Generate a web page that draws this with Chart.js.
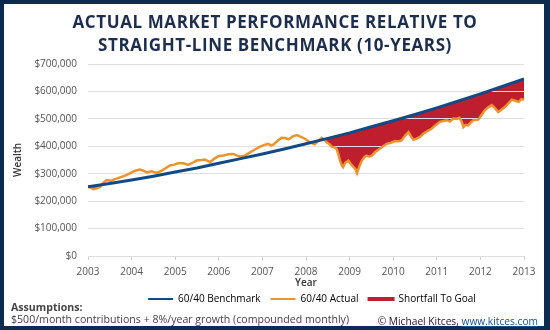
<!DOCTYPE html>
<html>
<head>
<meta charset="utf-8">
<script src="https://cdn.jsdelivr.net/npm/chart.js@4.4.1/dist/chart.umd.min.js"></script>
<style>
  html, body { margin: 0; padding: 0; }
  body { width: 550px; height: 330px; background: #0c2b4e; overflow: hidden; position: relative; }
  #frame { position: absolute; left: 4px; top: 4px; width: 540px; height: 322px; background: #fff; }
  #chart { position: absolute; left: 0; top: 0; }
  #title { position: absolute; left: 0; top: 6px; width: 542px; text-align: center; letter-spacing: 0.6px;
           font: 700 17px/23px "Open Sans", sans-serif; color: #1d2d4e; }
  #notes { position: absolute; left: 7px; top: 297px; font: 10.6px/12px "Open Sans", sans-serif; color: #444; }
  #notes b { font-weight: 700; }
  #credit { position: absolute; right: 6px; top: 311px; font: 10.2px/12px "Open Sans", sans-serif; color: #222; }
  #credit a { color: #1b4f8a; text-decoration: underline; }
</style>
</head>
<body>
<div id="frame">
  <canvas id="chart" width="540" height="322"></canvas>
  <div id="title">ACTUAL MARKET PERFORMANCE RELATIVE TO<br>STRAIGHT-LINE BENCHMARK (10-YEARS)</div>
  <div id="notes"><b>Assumptions:</b><br>$500/month contributions + 8%/year growth (compounded monthly)</div>
  <div id="credit">© Michael Kitces, <a>www.kitces.com</a></div>
</div>
<script>
// Straight-line benchmark: $500/month contributions + 8%/year growth
const benchmarkYears = [2003.0, 2003.5, 2004.0, 2004.5, 2005.0, 2005.5, 2006.0, 2006.5, 2007.0, 2007.5,
  2008.0, 2008.5, 2009.0, 2009.5, 2010.0, 2010.5, 2011.0, 2011.5, 2012.0, 2012.5, 2013.0];
const benchmarkWealth = [252000, 264000, 277000, 291000, 306000, 321000, 338000, 355000, 372000, 390000,
  409000, 429000, 449000, 471000, 493000, 516000, 540000, 565000, 591000, 618000, 646000];

// Actual 60/40 portfolio value
const actualYears = [2003.00, 2003.05, 2003.12, 2003.20, 2003.28, 2003.36, 2003.43, 2003.52, 2003.62, 2003.72,
  2003.85, 2003.96, 2004.08, 2004.19, 2004.27, 2004.35, 2004.46, 2004.58, 2004.69, 2004.78,
  2004.88, 2004.98, 2005.07, 2005.19, 2005.30, 2005.40, 2005.49, 2005.60, 2005.68, 2005.80,
  2005.90, 2005.99, 2006.10, 2006.22, 2006.33, 2006.42, 2006.49, 2006.60, 2006.68, 2006.75,
  2006.85, 2006.95, 2007.05, 2007.13, 2007.20, 2007.25, 2007.35, 2007.44, 2007.52, 2007.60,
  2007.70, 2007.79, 2007.86, 2007.92, 2008.01, 2008.10, 2008.20, 2008.28, 2008.36, 2008.42,
  2008.47, 2008.54, 2008.59, 2008.66, 2008.70, 2008.74, 2008.78, 2008.82, 2008.85, 2008.90,
  2008.97, 2009.03, 2009.08, 2009.13, 2009.17, 2009.22, 2009.28, 2009.34, 2009.39, 2009.45,
  2009.51, 2009.58, 2009.66, 2009.75, 2009.85, 2009.95, 2010.04, 2010.12, 2010.19, 2010.28,
  2010.35, 2010.40, 2010.46, 2010.54, 2010.62, 2010.69, 2010.78, 2010.88, 2010.98, 2011.07,
  2011.15, 2011.23, 2011.30, 2011.38, 2011.45, 2011.52, 2011.57, 2011.61, 2011.66, 2011.72,
  2011.78, 2011.84, 2011.95, 2012.03, 2012.10, 2012.18, 2012.26, 2012.33, 2012.41, 2012.48,
  2012.56, 2012.64, 2012.72, 2012.80, 2012.88, 2012.94, 2013.00];
const actualWealth = [255000, 250000, 244000, 247000, 252000, 268000, 277000, 274000, 280000, 286000,
  293000, 301000, 311000, 315000, 311000, 305000, 309000, 303000, 311000, 320000,
  330000, 333000, 338000, 338000, 332000, 340000, 348000, 350000, 352000, 342000,
  355000, 364000, 366000, 371000, 372000, 366000, 363000, 366000, 374000, 381000,
  390000, 399000, 405000, 409000, 403000, 406000, 420000, 431000, 430000, 425000,
  436000, 441000, 436000, 432000, 424000, 413000, 407000, 420000, 431000, 425000,
  415000, 408000, 399000, 395000, 391000, 372000, 348000, 330000, 324000, 340000,
  348000, 335000, 326000, 318000, 302000, 325000, 348000, 360000, 366000, 362000,
  366000, 378000, 387000, 398000, 409000, 413000, 419000, 418000, 421000, 440000,
  452000, 438000, 424000, 428000, 435000, 446000, 455000, 464000, 478000, 489000,
  492000, 495000, 490000, 501000, 500000, 504000, 490000, 470000, 478000, 476000,
  487000, 495000, 497000, 515000, 531000, 542000, 550000, 540000, 525000, 533000,
  543000, 556000, 570000, 566000, 562000, 572000, 570000];

const yearLabels = ['2003', '2004', '2005', '2006', '2007', '2008', '2009', '2010', '2011', '2012', '2013'];
const wealthLabels = ['$0', '$100,000', '$200,000', '$300,000', '$400,000', '$500,000', '$600,000', '$700,000'];

const NAVY = '#124a86';
const ORANGE = '#f0922b';
const RED = '#be1e2d';

const toPoints = (xs, ys) => xs.map((x, i) => ({ x, y: ys[i] }));
const benchmarkPts = toPoints(benchmarkYears, benchmarkWealth);
const actualPts = toPoints(actualYears, actualWealth);

// Repaint the horizontal grid on top of the shortfall area, beneath the two lines
const gridOverFill = {
  id: 'gridOverFill',
  afterDatasetDraw(chart, args) {
    if (args.index === 2) chart.scales.y.drawGrid(chart.chartArea);
  }
};

// Nudge the legend row a little to the right of the plot centre
const legendNudge = {
  id: 'legendNudge',
  afterLayout(chart) {
    if (chart.legend) { chart.legend.left += 6; chart.legend.right += 6; }
  }
};

new Chart(document.getElementById('chart'), {
  type: 'line',
  data: {
    datasets: [
      { label: '60/40 Benchmark', data: benchmarkPts, borderColor: NAVY, backgroundColor: NAVY,
        borderWidth: 3, pointRadius: 0, fill: false, order: 1, tension: 0 },
      { label: '60/40 Actual', data: actualPts, borderColor: ORANGE, backgroundColor: ORANGE,
        borderWidth: 2.5, pointRadius: 0, fill: false, order: 2, tension: 0 },
      { label: 'Shortfall To Goal', data: benchmarkPts, borderColor: 'rgba(0,0,0,0)', borderWidth: 0,
        backgroundColor: RED, pointRadius: 0, order: 3,
        fill: { target: 1, above: RED, below: 'rgba(0,0,0,0)' } }
    ]
  },
  options: {
    responsive: false,
    animation: false,
    devicePixelRatio: 1,
    layout: { padding: { top: 60, right: 20, bottom: 12, left: 0 } },
    scales: {
      x: {
        type: 'linear', min: 2003, max: 2013,
        afterFit: (scale) => { scale.height = 28; },
        ticks: { stepSize: 1, padding: 6, color: '#555', font: { family: 'Open Sans', size: 10 },
                 maxRotation: 0, callback: (v, i) => yearLabels[i] },
        grid: { drawOnChartArea: false, drawTicks: true, tickLength: 4, color: '#cfcfcf' },
        border: { display: true, color: '#cfcfcf' },
        title: { display: true, text: 'Year', color: '#333', padding: { top: 0, bottom: -5 },
                 font: { family: 'Open Sans', size: 10, weight: '600' } }
      },
      y: {
        min: 0, max: 700000,
        afterFit: (scale) => { scale.width = 84; },
        ticks: { stepSize: 100000, padding: 11, color: '#555', font: { family: 'Open Sans', size: 10 },
                 callback: (v, i) => wealthLabels[i] },
        grid: { drawTicks: false, color: '#dedede' },
        border: { display: false },
        title: { display: true, text: 'Wealth', color: '#333', padding: { top: 8, bottom: 0 },
                 font: { family: 'Open Sans', size: 10, weight: '600' } }
      }
    },
    plugins: {
      title: { display: false },
      tooltip: { enabled: false },
      legend: {
        position: 'bottom',
        fullSize: false,
        labels: {
          boxWidth: 25, boxHeight: 2, padding: 10, color: '#444',
          font: { family: 'Open Sans', size: 10 },
          generateLabels: (chart) => chart.data.datasets.map((ds, i) => ({
            text: ds.label,
            fillStyle: i === 2 ? RED : ds.borderColor,
            strokeStyle: i === 2 ? RED : ds.borderColor,
            lineWidth: i === 2 ? 2 : 0,
            datasetIndex: i,
            hidden: false
          }))
        }
      }
    }
  },
  plugins: [gridOverFill, legendNudge]
});
</script>
</body>
</html>
